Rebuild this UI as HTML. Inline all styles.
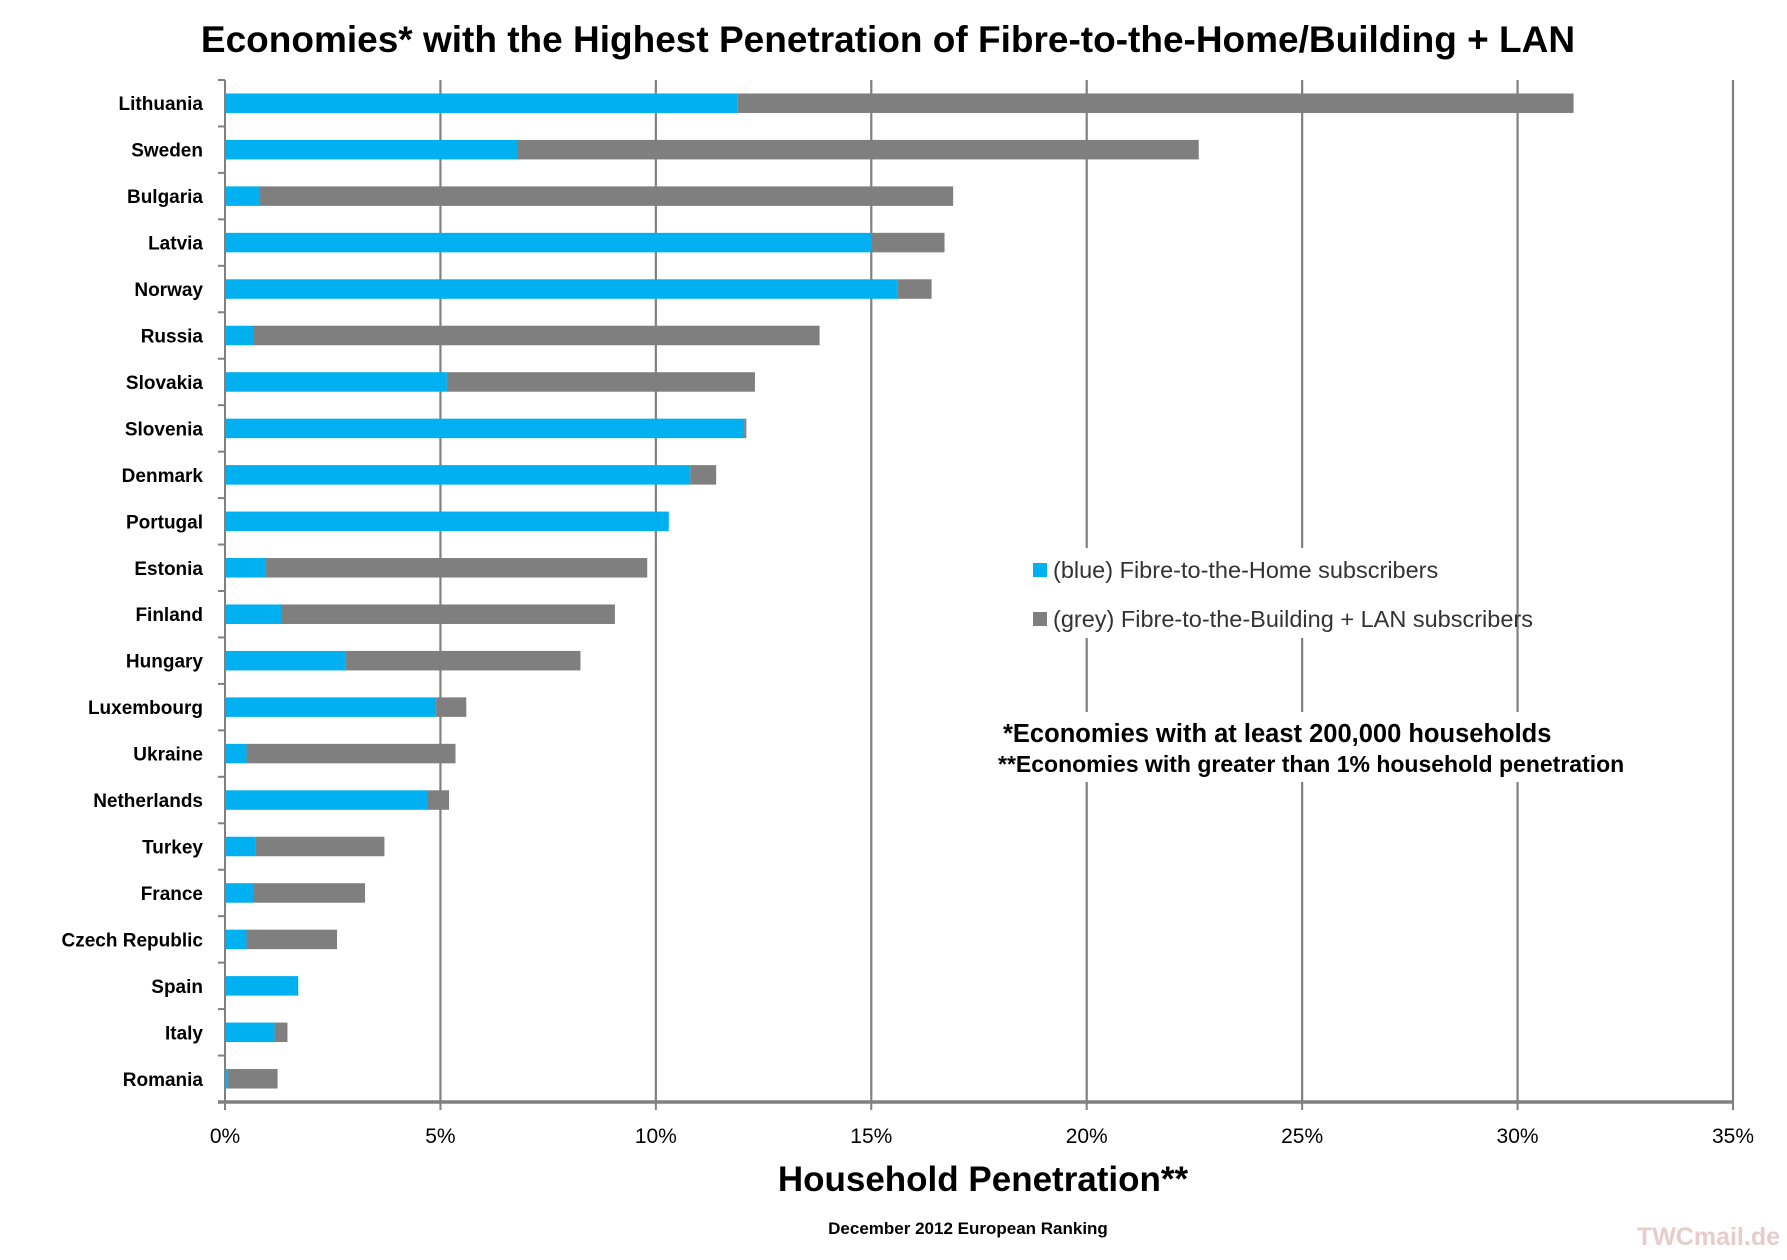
<!DOCTYPE html>
<html><head><meta charset="utf-8"><style>
body{margin:0;background:#fff;}
svg text{font-family:"Liberation Sans",sans-serif;}
</style></head><body>
<svg width="1787" height="1255" viewBox="0 0 1787 1255" xmlns="http://www.w3.org/2000/svg">
<text x="888" y="52" text-anchor="middle" font-size="37" font-weight="bold" fill="#000">Economies* with the Highest Penetration of Fibre-to-the-Home/Building + LAN</text>
<g id="grid"></g>
<g id="bars"></g>
<g id="axes"></g>
<g>
<rect x="1024" y="548" width="440" height="90" fill="#fff"/>
<rect x="1033" y="563" width="14" height="14" fill="#00b0f0"/>
<text x="1053" y="578" font-size="23.5" fill="#333">(blue) Fibre-to-the-Home subscribers</text>
<rect x="1033" y="612" width="14" height="14" fill="#7f7f7f"/>
<text x="1053" y="627" font-size="23.5" fill="#333">(grey) Fibre-to-the-Building + LAN subscribers</text>
</g>
<rect x="995" y="712" width="670" height="70" fill="#fff"/>
<text x="1003" y="742" font-size="25.5" font-weight="bold" fill="#000">*Economies with at least 200,000 households</text>
<text x="998" y="772" font-size="23" font-weight="bold" fill="#000">**Economies with greater than 1% household penetration</text>
<g id="xt"></g>
<text x="983" y="1191" text-anchor="middle" font-size="35" font-weight="bold" fill="#000">Household Penetration**</text>
<text x="968" y="1234" text-anchor="middle" font-size="17" font-weight="bold" fill="#000">December 2012 European Ranking</text>
<text x="1780" y="1245" text-anchor="end" font-size="25" font-weight="bold" fill="#e6cccc">TWCmail.de</text>
</svg>
<script>
const categories=["Lithuania","Sweden","Bulgaria","Latvia","Norway","Russia","Slovakia","Slovenia","Denmark","Portugal","Estonia","Finland","Hungary","Luxembourg","Ukraine","Netherlands","Turkey","France","Czech Republic","Spain","Italy","Romania"];
const blueValues=[11.9,6.8,0.8,15.0,15.6,0.65,5.15,12.05,10.8,10.3,0.95,1.3,2.8,4.9,0.5,4.7,0.7,0.65,0.5,1.7,1.15,0.05];
const greyValues=[19.4,15.8,16.1,1.7,0.8,13.15,7.15,0.05,0.6,0,8.85,7.75,5.45,0.7,4.85,0.5,3.0,2.6,2.1,0,0.3,1.17];
const tickValues=[0,5,10,15,20,25,30,35];
const tickLabels=["0%","5%","10%","15%","20%","25%","30%","35%"];
const NS="http://www.w3.org/2000/svg";
const X0=225,X1=1733,XMAX=35,TOP=80,BOT=1102;
const xs=v=>X0+(X1-X0)*v/XMAX;
const band=(BOT-TOP)/categories.length;
const yc=i=>TOP+band*(i+0.5);
function mk(t,a,p){const e=document.createElementNS(NS,t);for(const k in a)e.setAttribute(k,a[k]);p.appendChild(e);return e;}
const grid=document.getElementById('grid'),bars=document.getElementById('bars'),axes=document.getElementById('axes'),xt=document.getElementById('xt');
tickValues.forEach((v,i)=>{
 if(v>0){const l=mk('line',{x1:xs(v),x2:xs(v),y1:TOP,y2:BOT,stroke:'#808080','stroke-width':2.2},grid);
 
 }
 const tk=mk('line',{x1:xs(v),x2:xs(v),y1:BOT,y2:BOT+8,stroke:'#808080','stroke-width':2},axes);
 
 
 const t=mk('text',{x:xs(v),y:1143,'text-anchor':'middle','font-size':21,fill:'#000'},xt);
 t.textContent=tickLabels[i];
 
 
});
const h=19.5;
categories.forEach((c,i)=>{
 const y=yc(i);
 const b=mk('rect',{x:xs(0),y:y-h/2,width:xs(blueValues[i])-xs(0),height:h,fill:'#00b0f0'},bars);
 
 
 const g=mk('rect',{x:xs(blueValues[i]),y:y-h/2,width:xs(blueValues[i]+greyValues[i])-xs(blueValues[i]),height:h,fill:'#7f7f7f'},bars);
 
 
 const t=mk('text',{x:203,y:y+7,'text-anchor':'end','font-size':19,'font-weight':'bold',fill:'#000'},axes);
 t.textContent=c;
 
 
});
for(let i=0;i<=categories.length;i++){
 const y=TOP+band*i;
 const tk=mk('line',{x1:X0-7,x2:X0,y1:y,y2:y,stroke:'#808080','stroke-width':2},axes);
 
 
}
const ya=mk('line',{x1:X0,x2:X0,y1:TOP,y2:BOT,stroke:'#808080','stroke-width':2},axes);


const xa=mk('line',{x1:X0-7,x2:X1,y1:BOT,y2:BOT,stroke:'#808080','stroke-width':3.5},axes);


</script>
</body></html>
